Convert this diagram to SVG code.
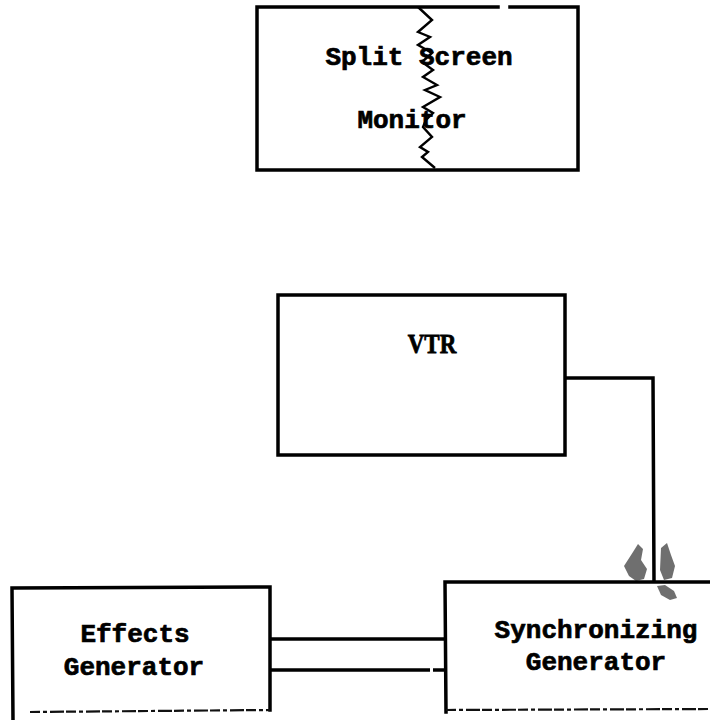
<svg xmlns="http://www.w3.org/2000/svg" width="710" height="720" viewBox="0 0 710 720">
<style>
.box{fill:none;stroke:#000;stroke-width:3.5;stroke-linejoin:miter;stroke-linecap:square}
.faint{fill:none;stroke:#111;stroke-width:2.2;stroke-dasharray:10 3 4 3 14 2}
.wire{fill:none;stroke:#000;stroke-width:3.5}
.lbl{font-family:"Liberation Mono","DejaVu Sans Mono",monospace;font-weight:bold;font-size:26px;fill:#000;stroke:#000;stroke-width:0.7;text-anchor:middle}
</style>
<rect width="710" height="720" fill="#fff"/>
<g id="split-screen-monitor">
  <path class="box" d="M375 7 L257 7 L257 170 L578 170 L578 7 L510 7 M378 7 L498 7"/>
  <path fill="none" stroke="#000" stroke-width="2.4" stroke-linejoin="miter" d="M418 7 L432 20 L418 32 L430 37 L418 45 L432 53 L422 62 L433 70 L423 77 L437 85 L425 90 L440 97 L423 107 L433 113 L426 120 L423 127 L432 137 L420 147 L428 152 L422 157 L435 168"/>
  <text class="lbl" x="419" y="65">Split Screen</text>
  <text class="lbl" x="412" y="128">Monitor</text>
</g>
<g id="vtr">
  <rect class="box" x="278" y="295" width="287" height="160"/>
  <text class="lbl" x="432" y="353" style="font-family:'Liberation Serif',serif;font-size:23px" transform="translate(432 353) scale(1 1.2) translate(-432 -353)">VTR</text>
</g>
<g id="effects-generator">
  <path class="box" d="M270 710 L270 587 L12 588 L13 720"/>
  <path class="faint" d="M30 712 L270 710"/>
  <text class="lbl" x="135" y="642">Effects</text>
  <text class="lbl" x="134" y="675">Generator</text>
</g>
<g id="synchronizing-generator">
  <path class="box" d="M712 582 L445 582 L446 712"/>
  <path class="faint" d="M446 710 L712 709"/>
  <text class="lbl" x="596" y="638">Synchronizing</text>
  <text class="lbl" x="596" y="670">Generator</text>
</g>
<g id="connectors">
  <path class="wire" d="M565 378 L653 378 L654 582"/>
  <path class="wire" d="M270 639 L445 639"/>
  <path class="wire" d="M270 670 L430 670 M433 670 L445 670"/>
</g>
<g id="smudge" fill="#111" opacity="0.6">
  <path d="M633 552 L638 544 L643 549 L641 560 L647 569 L644 579 L636 581 L629 576 L624 566 Z"/>
  <path d="M661 548 L667 543 L671 555 L675 566 L672 578 L664 580 L660 570 Z"/>
  <path d="M657 586 L665 585 L674 591 L677 598 L670 600 L661 595 Z"/>
</g>
</svg>
